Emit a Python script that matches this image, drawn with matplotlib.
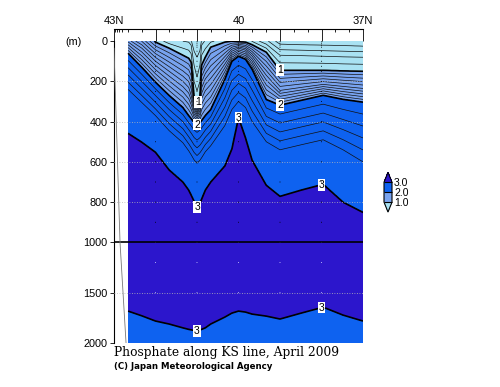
import numpy as np
import matplotlib
matplotlib.use('Agg')
import matplotlib.pyplot as plt
from matplotlib.colors import ListedColormap, BoundaryNorm

lats = [42.66, 42.33, 42.00, 41.67, 41.34, 41.20, 41.14, 41.07, 41.00, 40.93,
        40.89, 40.80, 40.67, 40.33, 40.16, 40.00, 39.83, 39.67, 39.33, 39.00,
        38.49, 37.96, 37.48, 37.00]
d06 = [-130, -110, -80, -50, -40, -35, -30, -20, -20, -25,
       -30, -45, -60, -75, -80, -80, -75, -55, -30, 15,
       18, 20, 22, 25]
d08 = [-100, -80, -40, -10, 0, 5, 20, 120, 180, 120,
       20, -5, -20, -35, -40, -40, -35, -15, 15, 70,
       72, 75, 78, 80]
d10 = [-70, -50, 5, 35, 70, 85, 105, 280, 315, 280,
       120, 80, 30, 5, 0, 3, 5, 18, 55, 145,
       145, 145, 148, 150]
d15 = [-10, 35, 100, 150, 200, 230, 270, 335, 365, 330,
       260, 215, 185, 95, 50, 35, 45, 75, 170, 245,
       230, 215, 225, 235]
d20 = [60, 130, 204, 270, 330, 370, 385, 405, 415, 405,
       395, 370, 340, 190, 100, 75, 90, 140, 290, 318,
       294, 269, 289, 303]
d25 = [240, 305, 370, 445, 505, 545, 565, 590, 607, 592,
       580, 550, 520, 420, 340, 300, 330, 400, 500, 540,
       515, 490, 540, 600]
d30 = [458, 502, 552, 640, 700, 740, 765, 795, 825, 805,
       785, 740, 700, 620, 535, 378, 480, 592, 716, 771,
       740, 711, 800, 851]
d30_deep = [1683, 1730, 1782, 1812, 1850, 1865, 1870, 1877, 1881, 1872,
            1865, 1850, 1812, 1743, 1703, 1683, 1693, 1713, 1733, 1762,
            1703, 1644, 1723, 1782]
core_depth = 1150      # phosphate maximum
core_val = 3.15
bottom_val = 2.9

station_lats = [42, 41, 40, 39, 38]
sample_depths = [0, 10, 20, 30, 50, 75, 100, 125, 150, 200, 250, 300, 400, 500,
                 600, 700, 800, 900, 1000, 1200, 1500]
grid_depths = [200, 400, 600, 800, 1500]
depth_ticks = [0, 200, 400, 600, 800, 1000, 1500, 2000]
coast_lat = [43.0, 42.855, 42.71]
coast_depth = [35, 1000, 2000]

col_light = '#a9e2f3'
col_mid = '#78a3ef'
col_bright = '#0e62f0'
col_dark = '#2c16cc'

# ---- build field from isoline depths
n = len(lats)
knot_d = np.column_stack([np.full(n, -300.0), d06, d08, d10, d15, d20, d25, d30,
                          np.full(n, core_depth), d30_deep, np.full(n, 2000.0)])
knot_v = np.array([0.0, 0.6, 0.8, 1.0, 1.5, 2.0, 2.5, 3.0, core_val, 3.0, bottom_val])
la = np.array(lats)
order = np.argsort(la)
lat_f = np.linspace(min(lats), max(lats), 900)
dep_f = np.concatenate([np.linspace(0, 1000, 801), np.linspace(1000, 2000, 401)[1:]])
V = np.zeros((len(dep_f), len(lat_f)))
for i, x in enumerate(lat_f):
    row = [np.interp(x, la[order], knot_d[order, k]) for k in range(knot_d.shape[1])]
    V[:, i] = np.interp(dep_f, row, knot_v)
LAT, DEP = np.meshgrid(lat_f, dep_f)


def fwd(d):
    d = np.asarray(d, dtype=float)
    return np.where(d <= 1000, d, 1000 + (d - 1000) / 2)


def inv(y):
    y = np.asarray(y, dtype=float)
    return np.where(y <= 1000, y, 1000 + (y - 1000) * 2)


plt.rcParams['font.family'] = ['Liberation Sans', 'DejaVu Sans']
fig = plt.figure(figsize=(5, 3.87), dpi=100)
ax = fig.add_axes([0.228, 0.1137, 0.498, 0.780])
ax.set_yscale('function', functions=(fwd, inv))

cmap = ListedColormap([col_mid, col_bright])
cmap.set_under(col_light)
cmap.set_over(col_dark)
norm = BoundaryNorm([1, 2, 3], 2)
cf = ax.contourf(LAT, DEP, V, levels=[1, 2, 3], cmap=cmap, norm=norm, extend='both')

thin = [round(v, 1) for v in np.arange(0.6, 2.55, 0.1) if abs(v - round(v)) > 0.01]
ax.contour(LAT, DEP, V, levels=thin, colors='#111111', linewidths=0.5)
cs = ax.contour(LAT, DEP, V, levels=[1, 2, 3], colors='k', linewidths=1.2)

lab_pos = [(41.0, 300), (39.0, 150), (41.0, 420), (39.0, 318), (40.0, 378),
           (41.0, 825), (38.0, 711), (41.0, 1881), (38.0, 1644)]
labels = ax.clabel(cs, fmt='%d', manual=lab_pos, fontsize=7.5, inline=True,
                   inline_spacing=1)
for t in labels:
    t.set_rotation(0)
    t.set_bbox(dict(boxstyle='square,pad=0.08', fc='white', ec='none'))

# sample points and guide lines
for d in grid_depths:
    ax.axhline(d, color='#b8b8b8', lw=0.6, ls=(0, (1, 2)), zorder=3)
SL, SD = np.meshgrid(station_lats, sample_depths)
dc = np.where(SD >= 1000, '#d0d0ff', 'k')
ax.scatter(SL.ravel(), SD.ravel(), s=0.5, c=dc.ravel(), linewidths=0, zorder=4)
ax.axhline(1000, color='k', lw=1.2, zorder=5)
ax.plot(coast_lat, coast_depth, color='#777777', lw=0.6, zorder=5)

ax.set_xlim(43, 37)
ax.set_ylim(2000, 0)
ax.set_yticks(depth_ticks)
ax.set_yticklabels([str(d) for d in depth_ticks])
ax.yaxis.set_minor_locator(matplotlib.ticker.NullLocator())
ax.tick_params(axis='y', direction='out', length=3, width=0.6, labelsize=7.8, pad=1.5)

ax.xaxis.tick_top()
ax.spines['top'].set_position(('outward', 8.6))
ax.set_xticks([43, 42, 41, 40, 39, 38, 37])
ax.set_xticklabels(['43N', '', '', '40', '', '', '37N'])
ax.set_xticks(list(np.arange(37, 43.01, 1 / 3)) + [42.97, 42.93, 42.88, 42.8], minor=True)
ax.tick_params(axis='x', which='major', direction='in', length=8.6, width=0.6,
               labelsize=8, pad=2)
ax.tick_params(axis='x', which='minor', direction='in', length=2.5, width=0.6)
for s in ['right', 'bottom']:
    ax.spines[s].set_visible(False)
for s in ['left', 'top']:
    ax.spines[s].set_linewidth(0.8)

fig.text(0.146, 0.891, '(m)', fontsize=7.8, ha='center', va='center')

cax = fig.add_axes([0.768, 0.452, 0.016, 0.103])
cb = fig.colorbar(cf, cax=cax, extend='both', extendfrac=0.5, drawedges=True,
                  ticks=[1, 2, 3], format='%.1f')
cb.ax.tick_params(length=0, labelsize=7.5, pad=1.5)
cb.outline.set_linewidth(0.8)
cb.dividers.set_linewidth(0.8)

fig.text(0.228, 0.0904, 'Phosphate along KS line, April 2009', fontsize=8.8,
         family='DejaVu Serif', ha='left', va='center')
fig.text(0.228, 0.0517, '(C) Japan Meteorological Agency', fontsize=6.2,
         family='DejaVu Sans', weight='bold', ha='left', va='center')

fig.savefig('out.png', dpi=100)
